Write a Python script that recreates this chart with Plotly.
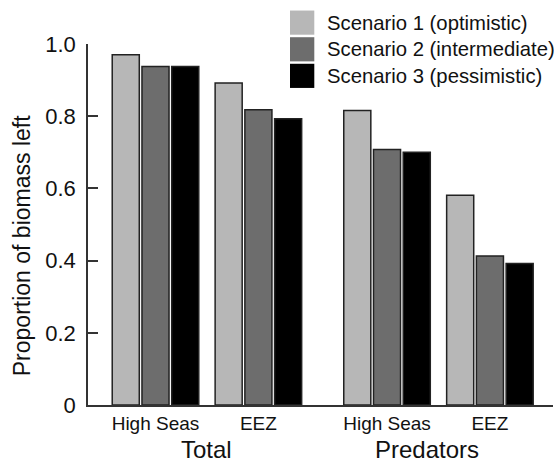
import plotly.graph_objects as go

# ---- data ----
groups = ["Total", "Predators"]
regions = ["High Seas", "EEZ", "High Seas", "EEZ"]
scenarios = ["Scenario 1 (optimistic)", "Scenario 2 (intermediate)", "Scenario 3 (pessimistic)"]
scenario1 = [0.970, 0.892, 0.816, 0.581]
scenario2 = [0.938, 0.818, 0.708, 0.413]
scenario3 = [0.938, 0.793, 0.700, 0.392]
y_ticks = [0, 0.2, 0.4, 0.6, 0.8, 1.0]
y_tick_labels = ["0", "0.2", "0.4", "0.6", "0.8", "1.0"]

# ---- layout constants ----
region_pos = [0, 1, 2.25, 3.25]
group_label_pos = [0.5, 2.64]
colors = ["#b7b7b7", "#6d6d6d", "#000000"]
FONT = "Liberation Sans, Arial, Helvetica, sans-serif"
W, H = 554, 464
# plot area in page pixels
X0, X1, Y0, Y1 = 88, 553, 43.5, 405
L, R, T, B = X0, W - X1, Y0, H - Y1
pw, ph = X1 - X0, Y1 - Y0


def px(x):
    return (x - X0) / pw


def py(y):
    return (Y1 - y) / ph


fig = go.Figure()
for name, vals, col in zip(scenarios, [scenario1, scenario2, scenario3], colors):
    fig.add_trace(go.Bar(
        x=region_pos, y=vals, name=name,
        marker=dict(color=col, line=dict(color="#222222", width=1.5)),
        showlegend=False,
    ))

# custom legend (large square swatches)
sw_top = [10, 36.7, 63.3]
for i, (name, col) in enumerate(zip(scenarios, colors)):
    fig.add_shape(type="rect", xref="paper", yref="paper",
                  x0=px(290), x1=px(314.3), y0=py(sw_top[i] + 24.2), y1=py(sw_top[i]),
                  fillcolor=col, line=dict(width=0), layer="above")
    fig.add_annotation(xref="paper", yref="paper", x=px(325), y=py(sw_top[i] + 12.3),
                       text=name, showarrow=False, xanchor="left", yanchor="middle",
                       font=dict(family=FONT, size=20.3, color="#111111"))

for g, xpos in zip(groups, group_label_pos):
    fig.add_annotation(xref="x", yref="paper", x=xpos, y=py(450),
                       text=g, showarrow=False, xanchor="center", yanchor="middle",
                       font=dict(family=FONT, size=24, color="#111111"))

fig.add_annotation(xref="paper", yref="paper", x=px(22), y=py(246),
                   text="Proportion of biomass left", textangle=-90, showarrow=False,
                   xanchor="center", yanchor="middle",
                   font=dict(family=FONT, size=23, color="#111111"))

fig.update_layout(
    width=W, height=H,
    margin=dict(l=L, r=R, t=T, b=B, autoexpand=False),
    paper_bgcolor="white", plot_bgcolor="white",
    barmode="group", bargap=0.133, bargroupgap=0.09,
    font=dict(family=FONT, color="#111111"),
    xaxis=dict(range=[-0.656, 3.863], tickvals=region_pos, ticktext=regions,
               showline=True, linecolor="#333333", linewidth=1.5, ticks="",
               showgrid=False, zeroline=False, tickfont=dict(size=19)),
    yaxis=dict(range=[0, 1.0], tickvals=y_ticks, ticktext=y_tick_labels,
               showline=True, linecolor="#333333", linewidth=1.5,
               ticks="inside", ticklen=10, tickwidth=1.5, tickcolor="#333333",
               showgrid=False, zeroline=False, tickfont=dict(size=22),
               ticklabelstandoff=6),
)

fig.write_html("out.html", config={"displayModeBar": False},
               post_script="document.body.style.margin='0';document.body.style.overflow='hidden';")
